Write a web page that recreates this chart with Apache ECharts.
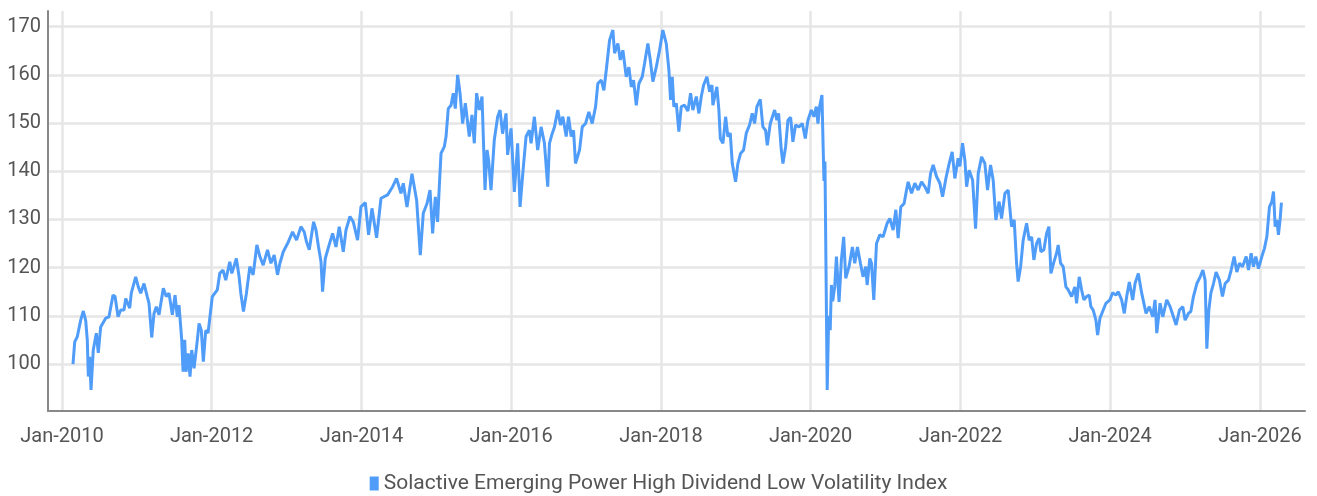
<!DOCTYPE html>
<html>
  <head>
    <meta charset="utf-8" />
    <script src="https://cdn.jsdelivr.net/npm/echarts@6/dist/echarts.min.js"></script>
  </head>
  <body>
    <style>
      #main,
      html,
      body {
        width: 100%;
        height: 100%;
        margin: 0;
        overflow: hidden;
        background: #fff;
      }
    </style>
    <div id="main"></div>
    <script type="text/javascript">
      // index level, time as decimal years
      var years = [
        2010.147, 2010.170, 2010.205, 2010.250, 2010.285, 2010.317, 2010.338, 2010.352, 2010.370, 2010.388,
        2010.418, 2010.459, 2010.485, 2010.517, 2010.584, 2010.628, 2010.682, 2010.709, 2010.749, 2010.785,
        2010.829, 2010.852, 2010.905, 2010.926, 2010.985,
        2011.020, 2011.052, 2011.096, 2011.140, 2011.163, 2011.199, 2011.230, 2011.261, 2011.297, 2011.354,
        2011.394, 2011.430, 2011.475, 2011.511, 2011.541, 2011.564, 2011.600, 2011.618, 2011.640, 2011.658,
        2011.688, 2011.711, 2011.734, 2011.765, 2011.809, 2011.832, 2011.862, 2011.889, 2011.921, 2011.952,
        2011.988,
        2012.009, 2012.076, 2012.108, 2012.152, 2012.188, 2012.242, 2012.269, 2012.330, 2012.366, 2012.389,
        2012.424, 2012.464, 2012.509, 2012.553, 2012.603, 2012.643, 2012.687, 2012.745, 2012.790, 2012.834,
        2012.878, 2012.910, 2012.955,
        2013.012, 2013.079, 2013.132, 2013.191, 2013.235, 2013.266, 2013.302, 2013.360, 2013.392, 2013.426,
        2013.459, 2013.480, 2013.516, 2013.560, 2013.614, 2013.659, 2013.703, 2013.757, 2013.793, 2013.846,
        2013.890, 2013.948, 2013.993,
        2014.051, 2014.095, 2014.140, 2014.202, 2014.261, 2014.349, 2014.416, 2014.469, 2014.528, 2014.559,
        2014.608, 2014.675, 2014.737, 2014.786, 2014.826, 2014.876, 2014.916, 2014.951, 2014.987,
        2015.017, 2015.040, 2015.063, 2015.107, 2015.130, 2015.160, 2015.197, 2015.227, 2015.254, 2015.285,
        2015.317, 2015.352, 2015.388, 2015.441, 2015.477, 2015.508, 2015.539, 2015.575, 2015.611, 2015.651,
        2015.678, 2015.699, 2015.731, 2015.775, 2015.820, 2015.852, 2015.886, 2015.932, 2015.953, 2015.999,
        2016.043, 2016.087, 2016.119, 2016.163, 2016.199, 2016.243, 2016.266, 2016.310, 2016.354, 2016.400,
        2016.444, 2016.488, 2016.511, 2016.547, 2016.578, 2016.622, 2016.658, 2016.689, 2016.734, 2016.765,
        2016.801, 2016.832, 2016.858, 2016.912, 2016.948, 2016.992,
        2017.036, 2017.081, 2017.126, 2017.156, 2017.202, 2017.237, 2017.269, 2017.313, 2017.357, 2017.380,
        2017.424, 2017.456, 2017.491, 2017.536, 2017.571, 2017.603, 2017.634, 2017.670, 2017.705, 2017.750,
        2017.781, 2017.825, 2017.857, 2017.892, 2017.937, 2017.981,
        2018.025, 2018.071, 2018.106, 2018.128, 2018.151, 2018.172, 2018.205, 2018.239, 2018.271, 2018.315,
        2018.360, 2018.396, 2018.426, 2018.472, 2018.507, 2018.539, 2018.570, 2018.614, 2018.650, 2018.681,
        2018.694, 2018.747, 2018.774, 2018.793, 2018.828, 2018.864, 2018.894, 2018.926, 2018.953, 2018.997,
        2019.028, 2019.064, 2019.104, 2019.140, 2019.184, 2019.220, 2019.251, 2019.282, 2019.327, 2019.362,
        2019.398, 2019.421, 2019.461, 2019.519, 2019.549, 2019.572, 2019.608, 2019.630, 2019.666, 2019.697,
        2019.733, 2019.763, 2019.799, 2019.844, 2019.889, 2019.929, 2019.964,
        2020.009, 2020.044, 2020.076, 2020.098, 2020.120, 2020.151, 2020.167, 2020.178, 2020.191, 2020.221,
        2020.241, 2020.261, 2020.277, 2020.294, 2020.321, 2020.344, 2020.379, 2020.410, 2020.441, 2020.468,
        2020.512, 2020.557, 2020.588, 2020.624, 2020.664, 2020.699, 2020.735, 2020.753, 2020.789, 2020.812,
        2020.842, 2020.878, 2020.922, 2020.966,
        2021.020, 2021.056, 2021.100, 2021.136, 2021.167, 2021.203, 2021.247, 2021.279, 2021.301, 2021.346,
        2021.390, 2021.435, 2021.480, 2021.524, 2021.568, 2021.600, 2021.635, 2021.680, 2021.725, 2021.761,
        2021.805, 2021.849, 2021.889, 2021.925, 2021.969, 2021.992,
        2022.028, 2022.059, 2022.082, 2022.116, 2022.162, 2022.202, 2022.237, 2022.282, 2022.326, 2022.362,
        2022.402, 2022.437, 2022.473, 2022.517, 2022.549, 2022.594, 2022.638, 2022.683, 2022.718, 2022.750,
        2022.771, 2022.804, 2022.838, 2022.884, 2022.919, 2022.951, 2022.981,
        2023.017, 2023.052, 2023.075, 2023.115, 2023.151, 2023.182, 2023.209, 2023.249, 2023.285, 2023.306,
        2023.338, 2023.373, 2023.409, 2023.440, 2023.485, 2023.529, 2023.552, 2023.587, 2023.619, 2023.650,
        2023.686, 2023.721, 2023.743, 2023.774, 2023.810, 2023.833, 2023.864, 2023.908, 2023.944, 2023.997,
        2024.033, 2024.078, 2024.109, 2024.154, 2024.189, 2024.221, 2024.256, 2024.301, 2024.332, 2024.376,
        2024.421, 2024.479, 2024.523, 2024.568, 2024.599, 2024.622, 2024.666, 2024.702, 2024.755, 2024.800,
        2024.844, 2024.880, 2024.924, 2024.969,
        2025.000, 2025.044, 2025.076, 2025.111, 2025.157, 2025.201, 2025.237, 2025.267, 2025.290, 2025.317,
        2025.344, 2025.379, 2025.414, 2025.459, 2025.499, 2025.535, 2025.579, 2025.615, 2025.655, 2025.691,
        2025.726, 2025.766, 2025.816, 2025.847, 2025.882, 2025.913, 2025.945, 2025.980,
        2026.025, 2026.060, 2026.092, 2026.127, 2026.159, 2026.181, 2026.203, 2026.226, 2026.247, 2026.269,
        2026.287
      ];
      var levels = [
        100, 104.6, 105.7, 109.1, 111, 109, 105, 97.4, 101.5, 94.6,
        102.9, 106.4, 102.3, 107.7, 109.5, 109.8, 114.3, 114, 109.8, 111.2,
        111.2, 113.6, 111.6, 114.7, 118.1,
        116, 114.7, 116.7, 114, 112.6, 105.5, 110.5, 111.9, 110.2, 115.7,
        114, 114.7, 110.2, 114.3, 109.8, 112.2, 105, 98.4, 105, 98.4,
        102.2, 97.4, 102.9, 99.1, 105, 108.4, 107, 100.5, 107, 106.4,
        111.2,
        114, 115.4, 118.8, 119.5, 117.4, 121.2, 118.8, 121.9, 118.1, 114.7,
        110.9, 114.7, 120.2, 118.5, 124.7, 122.3, 120.5, 123.7, 120.9, 122.6,
        118.5, 120.9, 123.3,
        125, 127.4, 125.7, 128.5, 127.4, 125.3, 123.7, 129.5, 127.8, 124.3,
        121.2, 115, 121.9, 124.3, 127.1, 124.3, 128.5, 123.3, 127.8, 130.6,
        129.5, 125.7, 132.6,
        133.5, 126.8, 132.3, 126.2, 134.4, 135.1, 136.8, 138.5, 135.4, 137.5,
        132.6, 139.5, 134, 122.6, 131.3, 133.3, 136.1, 127.1, 134.7,
        129.5, 136.8, 143.7, 145.1, 147.2, 153, 153.7, 156.2, 153, 160,
        156.2, 149.9, 154.1, 147.2, 151.7, 145.8, 156.2, 152.7, 155.5, 136.1,
        144.4, 142.3, 136.1, 146.5, 151.3, 152.7, 147.8, 152, 143.4, 148.9,
        135.7, 145.8, 132.6, 140.9, 147.2, 148.5, 145.8, 151.3, 144.4, 149.2,
        145.8, 136.8, 145.8, 147.8, 149.2, 152.7, 149.6, 151.3, 147.2, 151.3,
        147.2, 148.5, 141.6, 144.4, 149.2, 149.9,
        152.3, 149.9, 153.4, 158.2, 158.9, 156.8, 161, 167.2, 169.3, 164.5,
        166.5, 163.1, 165.1, 159.6, 161.6, 157.5, 158.9, 153.7, 158.2, 159.6,
        162.4, 166.5, 163.1, 158.6, 161.6, 165.1,
        169.3, 166.5, 161, 154.8, 159.6, 153.4, 154.1, 148.2, 153.4, 153.7,
        152.5, 156.2, 152.7, 155.5, 152, 155.5, 157.9, 159.6, 156.5, 157.9,
        153.7, 157.5, 152.7, 146.8, 145.8, 151.3, 147.2, 147.9, 141.6, 137.8,
        141.6, 143.7, 144.4, 147.9, 149.6, 152, 149.9, 153.4, 154.9, 149.2,
        148.5, 145.4, 149.9, 152.7, 150.6, 152, 144.4, 141.6, 145.1, 150.6,
        151.2, 146.1, 149.6, 149.2, 149.9, 146.8, 150.6,
        152.7, 151.3, 153.4, 149.9, 153.4, 155.8, 145, 138, 142, 94.6,
        110, 107, 116.4, 113, 116, 122.3, 112.9, 121.6, 126.4, 117.8,
        120.2, 124.3, 120.9, 124.3, 120.9, 118.1, 120.2, 116.4, 121.9, 120.9,
        113.3, 125, 126.8, 126.4,
        129.2, 130.2, 127.8, 132, 126.1, 132.6, 133.3, 136.1, 137.8, 135.4,
        137.5, 136.1, 137.8, 136.8, 135.4, 139.5, 141.3, 138.9, 137.5, 134.7,
        138.5, 141.6, 144, 138.5, 142.7, 141,
        145.8, 142.3, 136.8, 140.2, 138.2, 128.1, 139.5, 143, 141.6, 136.1,
        141.3, 138.2, 129.9, 133.7, 130.2, 135.4, 136.1, 128.5, 129.9, 120.9,
        117.1, 120.2, 125.7, 129.2, 125.7, 126.4, 121.6,
        125, 126.1, 123.3, 123.7, 127.1, 128.5, 118.8, 121.2, 123, 124.7,
        120.9, 120.2, 116, 115.4, 114, 116, 112.6, 118.1, 115.4, 113.3,
        114, 114.3, 111.9, 111.2, 109.1, 106, 109.5, 111.2, 112.6, 113.3,
        114.8, 114.3, 115, 113.3, 110.5, 114, 117, 113.3, 116.7, 118.8,
        114.7, 110.5, 111.9, 109.8, 113.3, 106.4, 112.6, 109.8, 113.3, 111.9,
        109.8, 108.1, 111.2, 111.9,
        109.1, 110.5, 110.9, 114, 116.7, 118.1, 119.5, 117.4, 103.2, 111.2,
        114.7, 116.7, 119.1, 117.4, 114, 116.7, 117.4, 119.5, 122.3, 119.1,
        120.9, 120.2, 122.3, 119.5, 123, 120.2, 122.3, 119.8,
        122.3, 124, 126.4, 132.6, 133.7, 135.8, 128.5, 129.9, 126.8, 129.9,
        133.5
      ];
      var tickYears = [2010, 2012, 2014, 2016, 2018, 2020, 2022, 2024, 2026];
      var yTicks = [100, 110, 120, 130, 140, 150, 160, 170];
      var seriesName = 'Solactive Emerging Power High Dividend Low Volatility Index';

      // decimal year -> timestamp
      function toTime(y) {
        var f = Math.floor(y);
        var a = Date.UTC(f, 0, 1), b = Date.UTC(f + 1, 0, 1);
        return a + (y - f) * (b - a);
      }

      var points = [];
      for (var i = 0; i < years.length; i++) {
        points.push([toTime(years[i]), levels[i]]);
      }
      var xTicks = tickYears.map(function (y) { return Date.UTC(y, 0, 1); });

      var font = "Roboto, sans-serif";
      var myChart = echarts.init(document.getElementById('main'));

      var option = {
        animation: false,
        grid: { left: 48, right: 12, top: 11, bottom: 85 },
        legend: {
          data: [seriesName],
          left: 'center',
          top: 468,
          icon: 'rect',
          itemWidth: 9,
          itemHeight: 14,
          itemGap: 5,
          textStyle: { fontFamily: font, fontSize: 21, color: '#555' }
        },
        xAxis: {
          type: 'value',
          min: toTime(2009.813),
          max: toTime(2026.602),
          axisLine: { show: true, lineStyle: { color: '#888', width: 2 } },
          axisTick: { show: false, customValues: xTicks },
          axisLabel: {
            customValues: xTicks,
            formatter: function (v) { return 'Jan-' + new Date(v).getUTCFullYear(); },
            margin: 16,
            fontFamily: font,
            fontSize: 20,
            color: '#555'
          },
          splitLine: { show: true, lineStyle: { color: '#e6e6e6', width: 2.5 } }
        },
        yAxis: {
          type: 'value',
          min: 90.25,
          max: 173.25,
          axisLine: { show: true, lineStyle: { color: '#888', width: 2 } },
          axisTick: { show: false, customValues: yTicks },
          axisLabel: {
            customValues: yTicks,
            margin: 7,
            fontFamily: font,
            fontSize: 20,
            color: '#555'
          },
          splitLine: { show: true, lineStyle: { color: '#e6e6e6', width: 2.5 } }
        },
        series: [
          {
            name: seriesName,
            type: 'line',
            data: points,
            showSymbol: false,
            color: '#4f9cf9',
            lineStyle: { width: 3, color: '#4f9cf9' }
          }
        ]
      };

      myChart.setOption(option);
      window.addEventListener('resize', function () {
        myChart.resize();
      });
    </script>
  </body>
</html>
